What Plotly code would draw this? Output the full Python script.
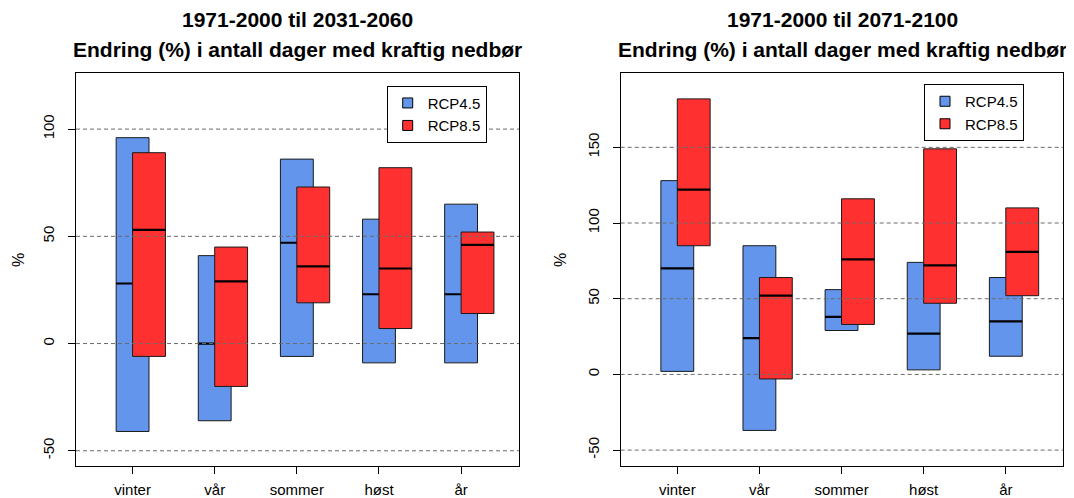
import numpy as np
import plotly.graph_objects as go

# ---------------- data ----------------
categories = ["vinter", "vår", "sommer", "høst", "år"]

# 1971-2000 til 2031-2060
p1_rcp45_low = [-41, -36, -6, -9, -9]
p1_rcp45_med = [28, 0, 47, 23, 23]
p1_rcp45_high = [96, 41, 86, 58, 65]
p1_rcp85_low = [-6, -20, 19, 7, 14]
p1_rcp85_med = [53, 29, 36, 35, 46]
p1_rcp85_high = [89, 45, 73, 82, 52]

# 1971-2000 til 2071-2100
p2_rcp45_low = [2, -37, 29, 3, 12]
p2_rcp45_med = [70, 24, 38, 27, 35]
p2_rcp45_high = [128, 85, 56, 74, 64]
p2_rcp85_low = [85, -3, 33, 47, 52]
p2_rcp85_med = [122, 52, 76, 72, 81]
p2_rcp85_high = [182, 64, 116, 149, 110]

p1_yticks = [-50, 0, 50, 100]
p2_yticks = [-50, 0, 50, 100, 150]

title_line1 = ["1971-2000 til 2031-2060", "1971-2000 til 2071-2100"]
title_line2 = "Endring (%) i antall dager med kraftig nedbør"
series_names = ["RCP4.5", "RCP8.5"]

# ---------------- style ----------------
PAGE_OFF = 8            # default body margin of the html page
W, H = 1074 - PAGE_OFF, 498 - PAGE_OFF
BLUE = "#6495ED"
RED = "#FF3030"
FONT = "Liberation Sans"
BOX_W = 0.4
OFFSET = [0.0, 0.2]
positions = np.arange(1, len(categories) + 1)

# pixel layout (window coordinates) of the two plot regions
plot_px = [
    dict(x0=76, x1=519, y0=72.7, y1=466),
    dict(x0=620.7, x1=1063.3, y0=72.7, y1=466),
]
yranges = [[-57.1, 126.3], [-60.5, 199.3]]
xranges = [[0.311, 5.705], [0.311, 5.70]]
legend_px = [(386.7, 85.7), (924, 84)]


def px_x(v):
    return (v - PAGE_OFF) / W


def px_y(v):
    return 1 - (v - PAGE_OFF) / H


def rect_path(xc, lo, hi):
    xs, ys = [], []
    for c, a, b in zip(xc, lo, hi):
        xl, xr = c - BOX_W / 2, c + BOX_W / 2
        xs += [xl, xr, xr, xl, xl, None]
        ys += [a, a, b, b, a, None]
    return xs, ys


def med_path(xc, med):
    xs, ys = [], []
    for c, m in zip(xc, med):
        xs += [c - BOX_W / 2, c + BOX_W / 2, None]
        ys += [m, m, None]
    return xs, ys


fig = go.Figure()

panels = [
    [(p1_rcp45_low, p1_rcp45_med, p1_rcp45_high), (p1_rcp85_low, p1_rcp85_med, p1_rcp85_high)],
    [(p2_rcp45_low, p2_rcp45_med, p2_rcp45_high), (p2_rcp85_low, p2_rcp85_med, p2_rcp85_high)],
]
colors = [BLUE, RED]

for pi, panel in enumerate(panels):
    xa = "x" if pi == 0 else "x2"
    ya = "y" if pi == 0 else "y2"
    for si, (lo, med, hi) in enumerate(panel):
        xc = positions + OFFSET[si]
        bx, by = rect_path(xc, lo, hi)
        fig.add_trace(go.Scatter(
            x=bx, y=by, mode="lines", fill="toself", fillcolor=colors[si],
            line=dict(color="#1a1a1a", width=1), xaxis=xa, yaxis=ya,
            showlegend=False, hoverinfo="skip"))
        mx, my = med_path(xc, med)
        fig.add_trace(go.Scatter(
            x=mx, y=my, mode="lines", line=dict(color="black", width=2.2),
            xaxis=xa, yaxis=ya, showlegend=False, hoverinfo="skip"))
    for si, name in enumerate(series_names):
        fig.add_trace(go.Scatter(
            x=[None], y=[None], mode="markers", name=name,
            marker=dict(symbol="square", size=10, color=colors[si],
                        line=dict(color="black", width=1)),
            xaxis=xa, yaxis=ya, legend="legend" if pi == 0 else "legend2",
            legendgroup=f"{pi}{si}"))

axis_common = dict(
    showline=True, mirror=True, linecolor="black", linewidth=1,
    ticks="outside", ticklen=7, tickcolor="black", tickwidth=1,
    showgrid=False, zeroline=False, automargin=False,
    tickfont=dict(family=FONT, size=15, color="black"),
)

layout = dict(
    width=W, height=H,
    margin=dict(l=0, r=0, t=0, b=0, pad=0, autoexpand=False),
    paper_bgcolor="white", plot_bgcolor="white",
    font=dict(family=FONT, size=15, color="black"),
    shapes=[], annotations=[],
)

for pi in range(2):
    p = plot_px[pi]
    xkey = "xaxis" if pi == 0 else "xaxis2"
    ykey = "yaxis" if pi == 0 else "yaxis2"
    yticks = p1_yticks if pi == 0 else p2_yticks
    layout[xkey] = dict(
        axis_common, domain=[px_x(p["x0"]), px_x(p["x1"])], range=xranges[pi],
        tickvals=list(positions), ticktext=categories,
        anchor="y" if pi == 0 else "y2", ticklabelstandoff=3)
    layout[ykey] = dict(
        axis_common, domain=[px_y(p["y1"]), px_y(p["y0"])], range=yranges[pi],
        tickvals=yticks, ticktext=[str(v) for v in yticks], tickangle=-90,
        anchor="x" if pi == 0 else "x2", ticklabelstandoff=8)
    # dashed reference lines (drawn above boxes, like abline in R)
    for v in yticks:
        layout["shapes"].append(dict(
            type="line", xref=("x domain" if pi == 0 else "x2 domain"),
            yref=("y" if pi == 0 else "y2"), x0=0, x1=1, y0=v, y1=v,
            line=dict(color="#6a6a6a", width=1, dash="4px,3px"), layer="above"))
    xc = px_x((p["x0"] + p["x1"]) / 2)
    layout["annotations"].append(dict(
        text=f"<b>{title_line1[pi]}</b>", xref="paper", yref="paper",
        x=xc, y=px_y(20), xanchor="center", yanchor="middle", showarrow=False,
        font=dict(family=FONT, size=21, color="black")))
    layout["annotations"].append(dict(
        text=f"<b>{title_line2}</b>", xref="paper", yref="paper",
        x=xc, y=px_y(49), xanchor="center", yanchor="middle", showarrow=False,
        font=dict(family=FONT, size=21, color="black")))
    layout["annotations"].append(dict(
        text="%", xref="paper", yref="paper", textangle=-90,
        x=px_x(19 if pi == 0 else 561), y=px_y(260),
        xanchor="center", yanchor="middle", showarrow=False,
        font=dict(family=FONT, size=16, color="black")))
    lkey = "legend" if pi == 0 else "legend2"
    lx, ly = legend_px[pi]
    layout[lkey] = dict(
        x=px_x(lx), y=px_y(ly), xanchor="left", yanchor="top",
        bgcolor="white", bordercolor="black", borderwidth=1,
        font=dict(family=FONT, size=15, color="black"),
        tracegroupgap=0, itemclick=False)

fig.update_layout(**layout)
fig.write_html("out.html")
